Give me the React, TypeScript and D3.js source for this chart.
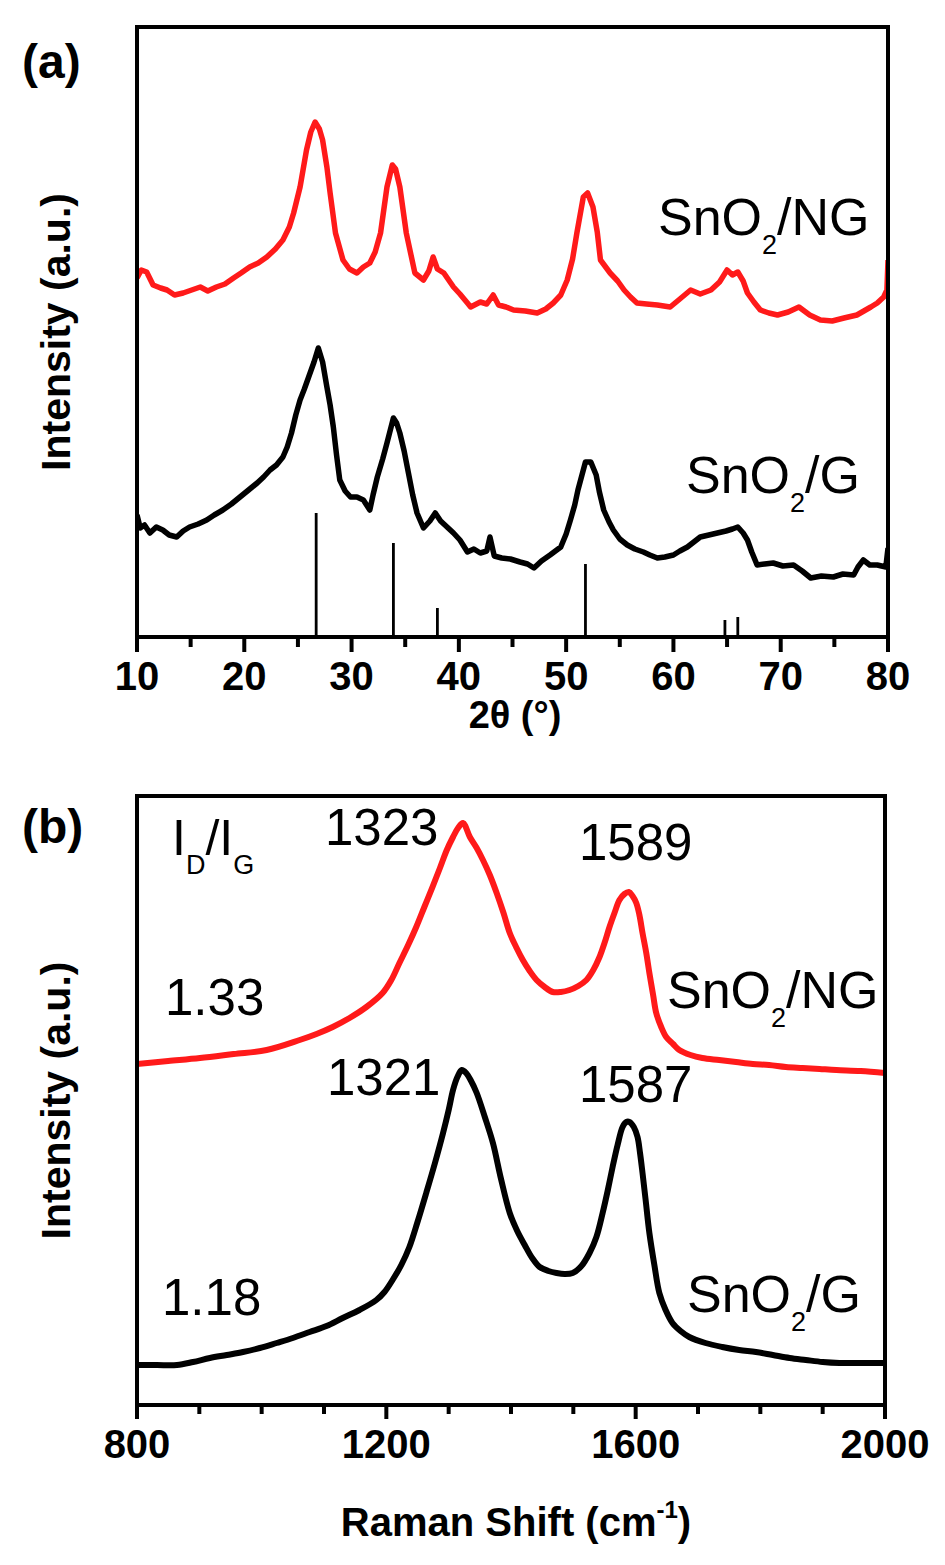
import React from "react";
import * as d3 from "d3";

// ---------- Panel (a) XRD data: [2θ, intensity] ----------
const xrdNG: [number, number][] = [
  [10.0, 359], [10.4, 367], [10.9, 365], [11.5, 352], [12.2, 349], [12.8, 347], [13.5, 342], [14.3, 344],
  [15.1, 347], [15.9, 350], [16.6, 346], [17.4, 350], [18.2, 353], [19.0, 359], [19.7, 364], [20.5, 370],
  [21.3, 374], [22.1, 380], [22.9, 388], [23.6, 397], [24.2, 410], [24.6, 424], [25.2, 450], [25.8, 487],
  [26.2, 505], [26.6, 515], [27.0, 508], [27.3, 497], [27.7, 470], [28.0, 444], [28.5, 404], [29.2, 377],
  [29.8, 368], [30.5, 364], [31.1, 370], [31.7, 374], [32.2, 385], [32.7, 404], [33.3, 450], [33.8, 472],
  [34.1, 468], [34.5, 450], [35.1, 404], [35.9, 364], [36.7, 357], [37.2, 366], [37.6, 380], [38.0, 368],
  [38.6, 364], [39.5, 350], [40.1, 343], [40.8, 334], [41.1, 330], [42.0, 335], [42.6, 333], [43.2, 342],
  [43.7, 332], [44.4, 330], [45.1, 327], [46.2, 326], [47.3, 324], [48.1, 328], [48.8, 334], [49.5, 342],
  [50.1, 357], [50.6, 378], [51.0, 404], [51.6, 440], [52.0, 444], [52.5, 430], [52.9, 405], [53.2, 377],
  [54.1, 364], [54.8, 356], [55.4, 347], [56.0, 340], [56.6, 334], [57.5, 333], [58.5, 332], [59.7, 330],
  [60.6, 338], [61.6, 347], [62.5, 343], [63.5, 347], [64.3, 355], [65.0, 367], [65.5, 362], [66.0, 365],
  [66.5, 356], [66.9, 344], [67.5, 335], [68.1, 327], [68.9, 324], [69.7, 322], [70.7, 325], [71.7, 330],
  [72.7, 322], [73.7, 317], [74.8, 316], [75.9, 319], [77.1, 322], [78.4, 330], [79.0, 334], [79.6, 340],
  [79.9, 347], [80.0, 377],
];

const xrdG: [number, number][] = [
  [10.0, 122], [10.3, 109], [10.7, 112], [11.2, 104], [11.8, 110], [12.4, 107], [13.0, 102], [13.7, 100],
  [14.3, 106], [14.9, 110], [15.7, 113], [16.5, 117], [17.2, 122], [18.0, 127], [18.8, 133], [19.6, 140],
  [20.4, 147], [21.2, 154], [21.8, 160], [22.4, 167], [23.0, 172], [23.6, 180], [24.0, 190], [24.4, 204],
  [24.8, 222], [25.2, 237], [25.6, 248], [26.0, 260], [26.5, 275], [26.9, 289], [27.3, 275], [27.7, 250],
  [28.0, 232], [28.3, 210], [28.6, 182], [28.9, 157], [29.4, 146], [29.9, 140], [30.5, 140], [31.1, 137],
  [31.7, 127], [32.0, 142], [32.4, 160], [32.9, 178], [33.3, 194], [33.9, 219], [34.2, 214], [34.5, 204],
  [34.9, 186], [35.3, 164], [35.7, 142], [36.1, 124], [36.7, 109], [37.3, 116], [37.8, 124], [38.3, 116],
  [38.9, 110], [39.5, 104], [40.1, 97], [40.8, 85], [41.4, 88], [42.0, 84], [42.6, 86], [42.9, 100],
  [43.3, 81], [44.0, 79], [44.8, 78], [45.7, 75], [46.4, 73], [47.0, 69], [47.7, 76], [48.5, 82],
  [49.0, 86], [49.5, 90], [50.0, 103], [50.4, 117], [50.8, 132], [51.1, 147], [51.5, 163], [51.8, 175],
  [52.3, 175], [52.8, 162], [53.1, 145], [53.5, 127], [54.0, 115], [54.4, 107], [55.0, 98], [55.7, 92],
  [56.4, 88], [57.2, 85], [57.8, 82], [58.5, 79], [59.2, 80], [60.0, 82], [60.6, 86], [61.3, 90],
  [61.9, 95], [62.5, 100], [63.3, 102], [64.1, 104], [64.9, 106], [65.5, 108], [66.0, 110], [66.5, 104],
  [66.9, 97], [67.3, 85], [67.8, 72], [68.5, 73], [69.3, 74], [70.2, 71], [71.2, 72], [72.0, 66],
  [72.8, 59], [73.8, 61], [74.9, 60], [75.8, 63], [76.8, 62], [77.2, 70], [77.7, 77], [78.3, 72],
  [79.0, 72], [79.8, 70], [80.0, 89],
];

// SnO2 reference pattern: [2θ, relative height]
const refPos = [26.7, 33.9, 38.0, 51.8, 64.8, 66.0];
const refHeight = [124, 94, 29, 73, 17, 20];

const xrdTicksMajor = [10, 20, 30, 40, 50, 60, 70, 80];
const xrdTicksMinor = [15, 25, 35, 45, 55, 65, 75];

// ---------- Panel (b) Raman data: [shift, intensity] ----------
const ramanNG: [number, number][] = [
  [800, 341], [850, 344], [901, 347], [955, 351], [1008, 355], [1061, 365], [1088, 371], [1114, 378],
  [1141, 387], [1168, 398], [1194, 412], [1208, 425], [1221, 442], [1235, 460], [1248, 478], [1261, 498],
  [1274, 518], [1286, 537], [1297, 555], [1307, 568], [1315, 577], [1323, 582], [1334, 568], [1345, 557],
  [1355, 545], [1366, 530], [1377, 512], [1388, 492], [1398, 472], [1409, 457], [1419, 445], [1430, 434],
  [1441, 425], [1454, 418], [1467, 413], [1480, 413], [1494, 415], [1508, 419], [1521, 425], [1532, 435],
  [1542, 448], [1550, 462], [1558, 478], [1566, 492], [1574, 505], [1582, 511], [1589, 513], [1595, 509],
  [1601, 502], [1606, 490], [1611, 472], [1617, 452], [1622, 432], [1628, 410], [1633, 392], [1641, 378],
  [1649, 368], [1660, 361], [1670, 355], [1688, 350], [1707, 347], [1734, 345], [1761, 343], [1788, 341],
  [1814, 340], [1841, 338], [1868, 337], [1895, 336], [1922, 335], [1961, 334], [2000, 332],
];

const ramanG: [number, number][] = [
  [800, 40], [832, 40], [864, 40], [890, 43], [917, 47], [944, 50], [970, 53], [997, 57], [1024, 62],
  [1050, 67], [1077, 73], [1104, 79], [1130, 87], [1157, 95], [1184, 105], [1197, 113], [1210, 125],
  [1224, 140], [1237, 158], [1250, 183], [1264, 212], [1278, 242], [1291, 272], [1300, 295], [1307, 315],
  [1314, 328], [1321, 335], [1328, 332], [1336, 324], [1345, 312], [1358, 288], [1371, 262], [1384, 226],
  [1398, 192], [1410, 174], [1422, 160], [1434, 147], [1446, 138], [1460, 134], [1473, 132], [1486, 131],
  [1499, 132], [1513, 139], [1526, 152], [1537, 168], [1547, 192], [1555, 214], [1563, 238], [1571, 260],
  [1579, 278], [1585, 283], [1590, 283], [1597, 278], [1603, 268], [1607, 252], [1611, 232], [1616, 205],
  [1622, 172], [1630, 140], [1638, 112], [1648, 95], [1659, 82], [1672, 74], [1686, 68], [1712, 62],
  [1739, 58], [1766, 55], [1793, 53], [1820, 50], [1847, 47], [1873, 45], [1900, 43], [1927, 42],
  [1954, 42], [2000, 42],
];

const ramanTicksMajor = [800, 1200, 1600, 2000];
const ramanTicksMinor = [900, 1000, 1100, 1300, 1400, 1500, 1700, 1800, 1900];

const FONT = "'Liberation Sans', Arial, Helvetica, sans-serif";
const RED = "#ff1a1a";
const INK = "#000";

// ---------- layout ----------
const W = 945;
const H = 1565;
const A = { left: 137, right: 888, top: 27, bottom: 637 };
const B = { left: 137, right: 885, top: 796, bottom: 1405 };

const xA = d3.scaleLinear().domain([10, 80]).range([A.left, A.right]);
const yA = d3.scaleLinear().domain([0, 610]).range([A.bottom, A.top]);
const xB = d3.scaleLinear().domain([800, 2000]).range([B.left, B.right]);
const yB = d3.scaleLinear().domain([0, 609]).range([B.bottom, B.top]);

const lineA = d3
  .line<[number, number]>()
  .x((d) => xA(d[0]))
  .y((d) => yA(d[1]))
  .curve(d3.curveLinear);

const lineB = d3
  .line<[number, number]>()
  .x((d) => xB(d[0]))
  .y((d) => yB(d[1]))
  .curve(d3.curveCatmullRom.alpha(0.5));

function Label({
  x,
  y,
  main,
  sub,
  rest,
  size = 52,
}: {
  x: number;
  y: number;
  main: string;
  sub: string;
  rest: string;
  size?: number;
}) {
  return (
    <text x={x} y={y} fontFamily={FONT} fontSize={size} fill={INK}>
      {main}
      <tspan fontSize={27} dy={19}>
        {sub}
      </tspan>
      <tspan dy={-19}>{rest}</tspan>
    </text>
  );
}

export default function App() {
  return (
    <svg
      width={W}
      height={H}
      viewBox={`0 0 ${W} ${H}`}
      style={{ position: "absolute", left: 0, top: 0, background: "#fff" }}
    >
      <defs>
        <clipPath id="clipA">
          <rect x={A.left} y={A.top} width={A.right - A.left} height={A.bottom - A.top} />
        </clipPath>
        <clipPath id="clipB">
          <rect x={B.left} y={B.top} width={B.right - B.left} height={B.bottom - B.top} />
        </clipPath>
      </defs>

      {/* ================= Panel (a) ================= */}
      <g clipPath="url(#clipA)">
        <path d={lineA(xrdNG) || ""} fill="none" stroke={RED} strokeWidth={5.5} strokeLinejoin="round" />
        <path d={lineA(xrdG) || ""} fill="none" stroke={INK} strokeWidth={5.5} strokeLinejoin="round" />
        {refPos.map((p, i) => (
          <line
            key={i}
            x1={xA(p)}
            x2={xA(p)}
            y1={yA(0)}
            y2={yA(refHeight[i])}
            stroke={INK}
            strokeWidth={2.8}
          />
        ))}
      </g>
      <rect
        x={A.left}
        y={A.top}
        width={A.right - A.left}
        height={A.bottom - A.top}
        fill="none"
        stroke={INK}
        strokeWidth={4}
      />
      {xrdTicksMajor.map((t) => (
        <line key={"am" + t} x1={xA(t)} x2={xA(t)} y1={A.bottom} y2={A.bottom + 15} stroke={INK} strokeWidth={4} />
      ))}
      {xrdTicksMinor.map((t) => (
        <line key={"an" + t} x1={xA(t)} x2={xA(t)} y1={A.bottom} y2={A.bottom + 10} stroke={INK} strokeWidth={4} />
      ))}
      {xrdTicksMajor.map((t) => (
        <text
          key={"al" + t}
          x={xA(t)}
          y={690}
          textAnchor="middle"
          fontFamily={FONT}
          fontWeight="bold"
          fontSize={40}
          fill={INK}
        >
          {t}
        </text>
      ))}
      <text x={515} y={728} textAnchor="middle" fontFamily={FONT} fontWeight="bold" fontSize={38} fill={INK}>
        2θ (°)
      </text>
      <text
        transform={`translate(70, ${(A.top + A.bottom) / 2}) rotate(-90)`}
        textAnchor="middle"
        fontFamily={FONT}
        fontWeight="bold"
        fontSize={41}
        fill={INK}
      >
        Intensity (a.u.)
      </text>
      <text x={22} y={78} fontFamily={FONT} fontWeight="bold" fontSize={48} fill={INK}>
        (a)
      </text>
      <Label x={658} y={235} main="SnO" sub="2" rest="/NG" />
      <Label x={686} y={493} main="SnO" sub="2" rest="/G" />

      {/* ================= Panel (b) ================= */}
      <g clipPath="url(#clipB)">
        <path d={lineB(ramanNG) || ""} fill="none" stroke={RED} strokeWidth={6} strokeLinejoin="round" />
        <path d={lineB(ramanG) || ""} fill="none" stroke={INK} strokeWidth={6} strokeLinejoin="round" />
      </g>
      <rect
        x={B.left}
        y={B.top}
        width={B.right - B.left}
        height={B.bottom - B.top}
        fill="none"
        stroke={INK}
        strokeWidth={4}
      />
      {ramanTicksMajor.map((t) => (
        <line key={"bm" + t} x1={xB(t)} x2={xB(t)} y1={B.bottom} y2={B.bottom + 14} stroke={INK} strokeWidth={4} />
      ))}
      {ramanTicksMinor.map((t) => (
        <line key={"bn" + t} x1={xB(t)} x2={xB(t)} y1={B.bottom} y2={B.bottom + 9} stroke={INK} strokeWidth={4} />
      ))}
      {ramanTicksMajor.map((t) => (
        <text
          key={"bl" + t}
          x={xB(t)}
          y={1458}
          textAnchor="middle"
          fontFamily={FONT}
          fontWeight="bold"
          fontSize={40}
          fill={INK}
        >
          {t}
        </text>
      ))}
      <text x={516} y={1536} textAnchor="middle" fontFamily={FONT} fontWeight="bold" fontSize={40} fill={INK}>
        Raman Shift (cm
        <tspan fontSize={24} dy={-18}>
          -1
        </tspan>
        <tspan dy={18}>)</tspan>
      </text>
      <text
        transform={`translate(70, ${(B.top + B.bottom) / 2}) rotate(-90)`}
        textAnchor="middle"
        fontFamily={FONT}
        fontWeight="bold"
        fontSize={41}
        fill={INK}
      >
        Intensity (a.u.)
      </text>
      <text x={22} y={843} fontFamily={FONT} fontWeight="bold" fontSize={48} fill={INK}>
        (b)
      </text>

      {/* I_D / I_G */}
      <text x={172} y={855} fontFamily={FONT} fontSize={50} fill={INK}>
        I
        <tspan fontSize={27} dy={19}>
          D
        </tspan>
        <tspan dy={-19}>/I</tspan>
        <tspan fontSize={27} dy={19}>
          G
        </tspan>
      </text>
      <text x={165} y={1015} fontFamily={FONT} fontSize={51} fill={INK}>
        1.33
      </text>
      <text x={162} y={1315} fontFamily={FONT} fontSize={51} fill={INK}>
        1.18
      </text>
      <text x={325} y={845} fontFamily={FONT} fontSize={51} fill={INK}>
        1323
      </text>
      <text x={579} y={860} fontFamily={FONT} fontSize={51} fill={INK}>
        1589
      </text>
      <text x={327} y={1095} fontFamily={FONT} fontSize={51} fill={INK}>
        1321
      </text>
      <text x={579} y={1102} fontFamily={FONT} fontSize={51} fill={INK}>
        1587
      </text>
      <Label x={667} y={1008} main="SnO" sub="2" rest="/NG" />
      <Label x={687} y={1312} main="SnO" sub="2" rest="/G" />
    </svg>
  );
}
